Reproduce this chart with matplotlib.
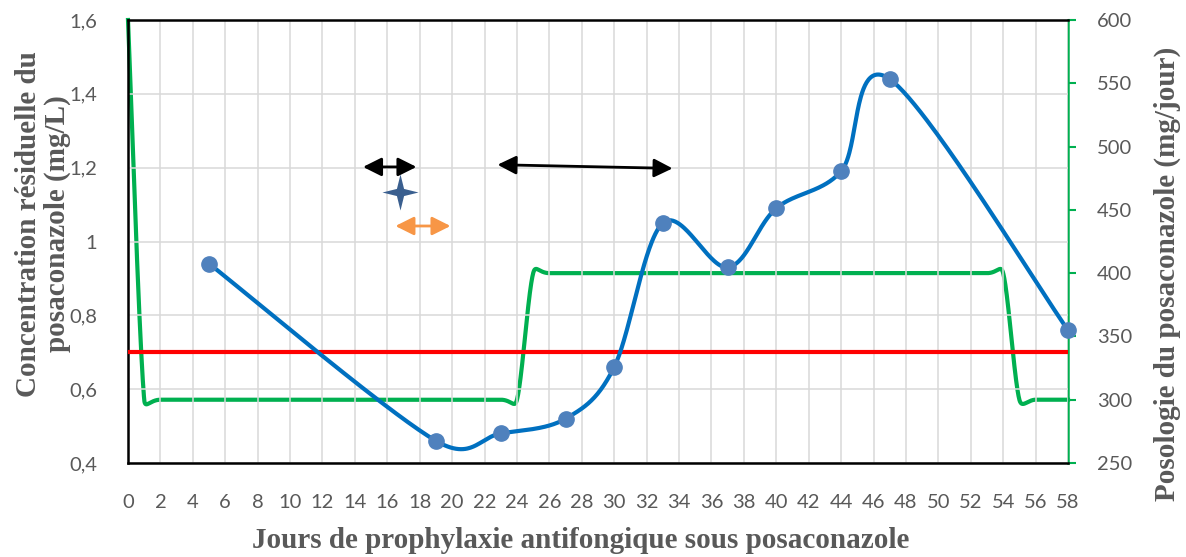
import numpy as np
import matplotlib
matplotlib.use("Agg")
import matplotlib.pyplot as plt
from matplotlib.path import Path

# concentration residuelle (mg/L)
jours_conc = [5, 19, 23, 27, 30, 33, 37, 40, 44, 47, 58]
conc = [0.94, 0.46, 0.48, 0.52, 0.66, 1.05, 0.93, 1.09, 1.19, 1.44, 0.76]

# posologie (mg/jour)
jours_dose = [0, 1, 2, 23, 24, 25, 26, 53, 54, 55, 56, 58]
dose = [600, 300, 300, 300, 300, 400, 400, 400, 400, 300, 300, 300]

seuil = 0.7

x_ticks = list(range(0, 59, 2))
left_ticks = [0.4, 0.6, 0.8, 1.0, 1.2, 1.4, 1.6]
left_labels = ["0,4", "0,6", "0,8", "1", "1,2", "1,4", "1,6"]
right_ticks = [250, 300, 350, 400, 450, 500, 550, 600]

W, H = 1186, 557
ax_l, ax_r, ax_b, ax_t = 128, 1068, 463, 20


def smooth(xs, ys, sx, sy, n=60):
    # excel-like smoothed line: catmull-rom bezier in pixel space,
    # tangents shortened on a short segment next to a long one
    p = np.column_stack([np.asarray(xs, float) * sx, np.asarray(ys, float) * sy])
    p = np.vstack([p[0], p, p[-1]])
    out = []
    for i in range(1, len(p) - 2):
        p0, p1, p2, p3 = p[i - 1], p[i], p[i + 1], p[i + 2]
        d0 = np.hypot(*(p1 - p0))
        d1 = np.hypot(*(p2 - p1))
        d2 = np.hypot(*(p3 - p2))
        f1 = min(1.0, 4 * d1 / max(d0 + d1, 1e-9))
        f2 = min(1.0, 4 * d1 / max(d1 + d2, 1e-9))
        c1 = p1 + (p2 - p0) / 6 * f1
        c2 = p2 - (p3 - p1) / 6 * f2
        t = np.linspace(0, 1, n)[:, None]
        seg = (1 - t) ** 3 * p1 + 3 * (1 - t) ** 2 * t * c1 + 3 * (1 - t) * t ** 2 * c2 + t ** 3 * p2
        out.append(seg if i == 1 else seg[1:])
    out = np.vstack(out)
    return out[:, 0] / sx, out[:, 1] / sy


fig = plt.figure(figsize=(W / 100, H / 100), dpi=100)
ax = fig.add_axes([ax_l / W, 1 - ax_b / H, (ax_r - ax_l) / W, (ax_b - ax_t) / H])
ax2 = ax.twinx()
ax.set_zorder(ax2.get_zorder() + 1)
ax.patch.set_visible(False)

sx = (ax_r - ax_l) / 58
sy_l = (ax_b - ax_t) / 1.2
sy_r = (ax_b - ax_t) / 350.0

ax.set_xlim(0, 58)
ax.set_ylim(0.4, 1.6)
ax2.set_ylim(250, 600)

ax.set_xticks(x_ticks)
ax.set_yticks(left_ticks)
ax.set_yticklabels(left_labels)
ax2.set_yticks(right_ticks)
ax.grid(True, color="#d9d9d9", linewidth=1.1, zorder=0)
ax.set_axisbelow(True)

for lab in ax.get_xticklabels() + ax.get_yticklabels() + ax2.get_yticklabels():
    lab.set_fontfamily("Lato")
    lab.set_fontsize(14.5)
    lab.set_color("#595959")
ax.tick_params(axis="x", length=0, pad=22)
ax.tick_params(axis="y", length=0, pad=22)
ax2.tick_params(axis="y", length=6, width=1.5, color="#00b050", pad=15, direction="out")

for s in ["left", "top", "bottom"]:
    ax.spines[s].set_color("black")
    ax.spines[s].set_linewidth(1.8)
ax.spines["right"].set_visible(False)
for s in ["left", "top", "bottom"]:
    ax2.spines[s].set_visible(False)
ax2.spines["right"].set_color("#00b050")
ax2.spines["right"].set_linewidth(1.8)

# posologie
gx, gy = smooth(jours_dose, dose, sx, sy_r)
ax2.plot(gx, gy, color="#00b050", linewidth=3, clip_on=False, zorder=3)

# seuil
ax.axhline(seuil, color="#ff0000", linewidth=3, zorder=3)

# concentration
bx, by = smooth(jours_conc, conc, sx, sy_l)
ax.plot(bx, by, color="#0070c0", linewidth=3, zorder=4, clip_on=False)
ax.plot(jours_conc, conc, "o", color="#4f81bd", markersize=11, zorder=5, clip_on=False)

# annotations
arrow_k = dict(arrowstyle="<|-|>", color="black", lw=2, mutation_scale=28, shrinkA=0, shrinkB=0)
ax.annotate("", xy=(17.8, 1.202), xytext=(14.5, 1.202), arrowprops=arrow_k)
ax.annotate("", xy=(33.6, 1.198), xytext=(22.8, 1.208), arrowprops=arrow_k)
ax.annotate("", xy=(19.9, 1.042), xytext=(16.5, 1.042),
            arrowprops=dict(arrowstyle="<|-|>", color="#f79646", lw=2, mutation_scale=28,
                            shrinkA=0, shrinkB=0))

ang = np.linspace(0, 2 * np.pi, 9)[:-1] + np.pi / 2
rad = np.where(np.arange(8) % 2 == 0, 1.0, 0.28)
star = Path(np.column_stack([rad * np.cos(ang), rad * np.sin(ang)]))
ax.plot([16.8], [1.134], marker=star, markersize=26, color="#3a5f8f",
        markeredgewidth=0, zorder=6)

lab_font = dict(family="Liberation Serif", weight="bold", size=21, color="#595959")
fig.text(581 / W, 1 - 540 / H, "Jours de prophylaxie antifongique sous posaconazole",
         ha="center", va="center", **lab_font)
fig.text(43 / W, 1 - 224 / H, "Concentration résiduelle du\nposaconazole (mg/L)",
         ha="center", va="center", rotation=90, linespacing=1.05, **lab_font)
fig.text(1167 / W, 1 - 274 / H, "Posologie du posaconazole (mg/jour)",
         ha="center", va="center", rotation=90, **lab_font)

fig.savefig("out.png", dpi=100)
